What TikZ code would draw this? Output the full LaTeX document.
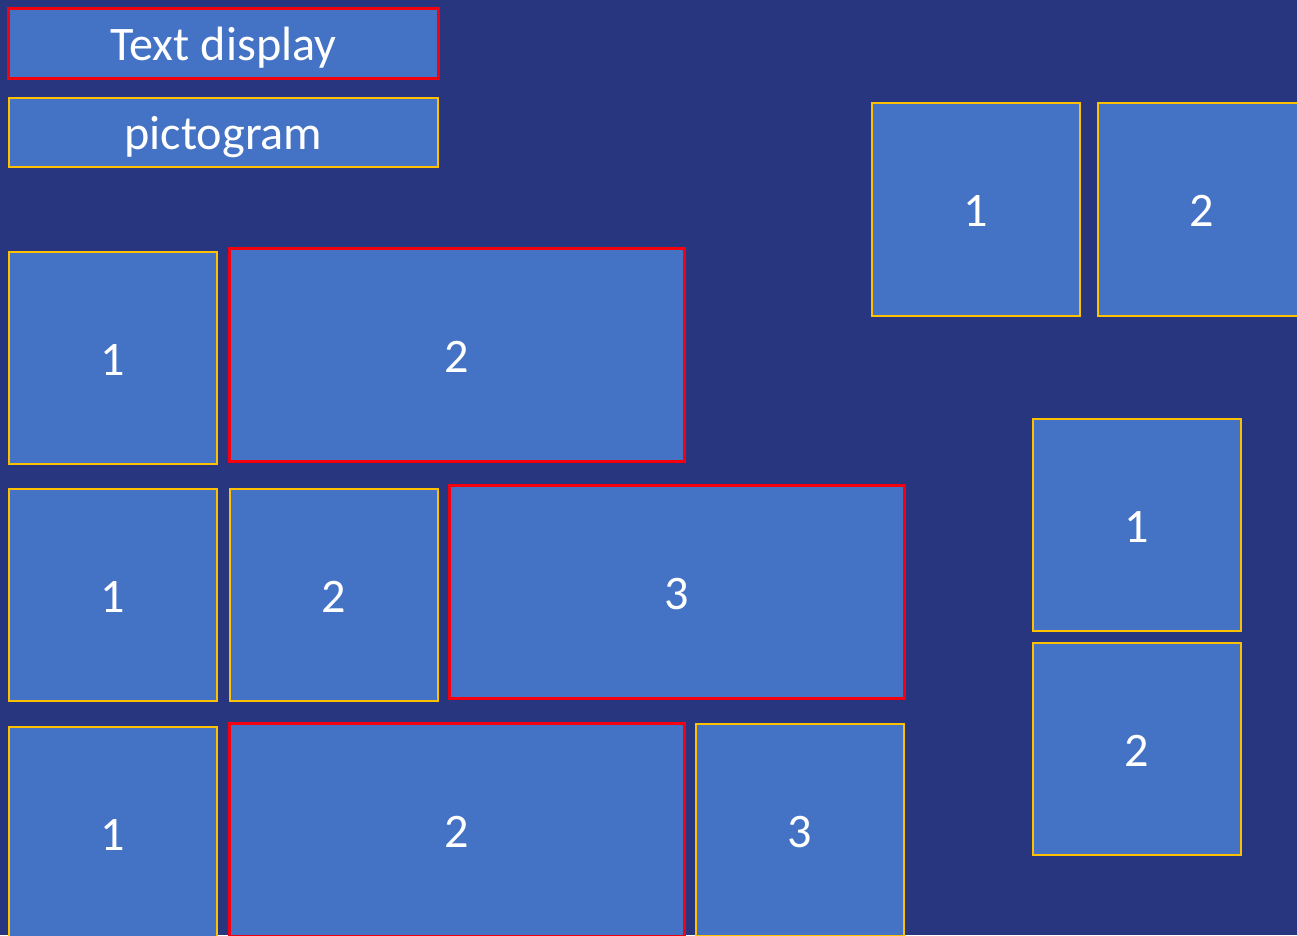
\documentclass[tikz,border=0pt]{standalone}
\usepackage{fontspec}
\setmainfont{Carlito}
\usepackage{xcolor}
\definecolor{bgblue}{RGB}{39,54,126}
\definecolor{tileblue}{RGB}{68,114,196}
\definecolor{gold}{RGB}{255,192,0}
\definecolor{hotred}{RGB}{245,0,15}
\tikzset{
  tile/.style={draw=gold,line width=0.6pt,fill=tileblue,text=white,inner sep=0pt,
    text height=11pt,text depth=1.3pt,font=\fontsize{13.7}{16}\selectfont},
  hottile/.style={tile,draw=hotred,line width=0.85pt}
}

\begin{document}
\begin{tikzpicture}[x=0.01cm,y=-0.01cm]
  % page
  \fill[bgblue] (0,0) rectangle (1297,935);
  \useasboundingbox (0,0) rectangle (1297,935);
  \clip (0,0) rectangle (1297,935);
  % legend
  \node[hottile,minimum width=4.29cm,minimum height=0.69cm] (txt) at (223.5,43.5) {Text display};
  \node[tile,minimum width=4.29cm,minimum height=0.69cm] (pic) at (223.5,132.5) {pictogram};
  % first row
  \node[tile,minimum width=2.08cm,minimum height=2.12cm] (ra1) at (113,358) {1};
  \node[hottile,minimum width=4.54cm,minimum height=2.12cm] (ra2) at (457,355) {2};
  % second row
  \node[tile,minimum width=2.08cm,minimum height=2.12cm] (rb1) at (113,595) {1};
  \node[tile,minimum width=2.08cm,minimum height=2.12cm] (rb2) at (334,595) {2};
  \node[hottile,minimum width=4.54cm,minimum height=2.12cm] (rb3) at (677,592) {3};
  % third row
  \node[tile,minimum width=2.08cm,minimum height=2.12cm] (rc1) at (113,833) {1};
  \node[hottile,minimum width=4.54cm,minimum height=2.12cm] (rc2) at (457,830) {2};
  \node[tile,minimum width=2.08cm,minimum height=2.12cm] (rc3) at (800,830) {3};
  % side by side
  \node[tile,minimum width=2.08cm,minimum height=2.13cm] (hz1) at (976,209.5) {1};
  \node[tile,minimum width=2.08cm,minimum height=2.13cm] (hz2) at (1202,209.5) {2};
  % stacked
  \node[tile,minimum width=2.08cm,minimum height=2.12cm] (vt1) at (1137,525) {1};
  \node[tile,minimum width=2.08cm,minimum height=2.12cm] (vt2) at (1137,749) {2};
\end{tikzpicture}
\end{document}
